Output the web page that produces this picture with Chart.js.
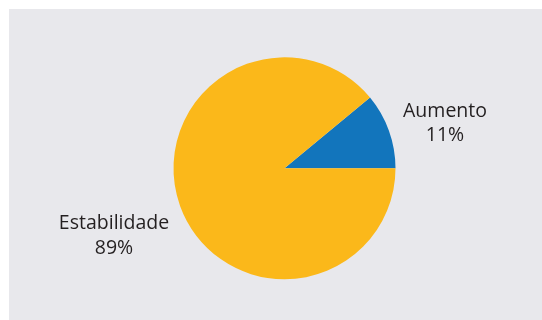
<!DOCTYPE html>
<html>
<head>
<meta charset="utf-8">
<script src="https://cdn.jsdelivr.net/npm/chart.js@4/dist/chart.umd.min.js"></script>
<style>
  html, body { margin: 0; padding: 0; background: #ffffff; }
  #wrap { position: relative; width: 542px; height: 320px; overflow: hidden; }
  #panel { position: absolute; left: 9px; top: 9px; width: 533px; height: 311px; background: #e8e8ec; }
  #c { position: absolute; left: 0; top: 0; }
</style>
</head>
<body>
<div id="wrap">
  <div id="panel"></div>
  <canvas id="c" width="542" height="320"></canvas>
</div>
<script>
const categories = ['Aumento', 'Estabilidade'];
const shares = [11, 89];
const percentLabels = ['11%', '89%'];
const sliceColors = ['#1275bc', '#fbb81a'];

// Label anchor offsets from the pie centre (px), one per slice
const labelOffsets = [[160.5, -51.5], [-170.5, 61]];

const sliceLabels = {
  id: 'sliceLabels',
  afterDatasetsDraw(chart) {
    const ctx = chart.ctx;
    const arcs = chart.getDatasetMeta(0).data;
    ctx.save();
    ctx.font = '19.5px "Open Sans", "Noto Sans", sans-serif';
    ctx.fillStyle = '#231f20';
    ctx.textAlign = 'center';
    ctx.textBaseline = 'alphabetic';
    arcs.forEach((arc, i) => {
      const x = arc.x + labelOffsets[i][0];
      const y = arc.y + labelOffsets[i][1];
      ctx.fillText(categories[i], x, y);
      ctx.fillText(percentLabels[i], x, y + 24.5);
    });
    ctx.restore();
  }
};

new Chart(document.getElementById('c'), {
  type: 'pie',
  data: {
    labels: categories,
    datasets: [{
      data: shares,
      backgroundColor: sliceColors,
      borderWidth: 0
    }]
  },
  options: {
    responsive: false,
    animation: false,
    rotation: 90 - shares[0] * 3.6,
    layout: { padding: { left: 173.5, right: 146.5, top: 57.3, bottom: 40.7 } },
    plugins: {
      legend: { display: false },
      tooltip: { enabled: false }
    }
  },
  plugins: [sliceLabels]
});
</script>
</body>
</html>
